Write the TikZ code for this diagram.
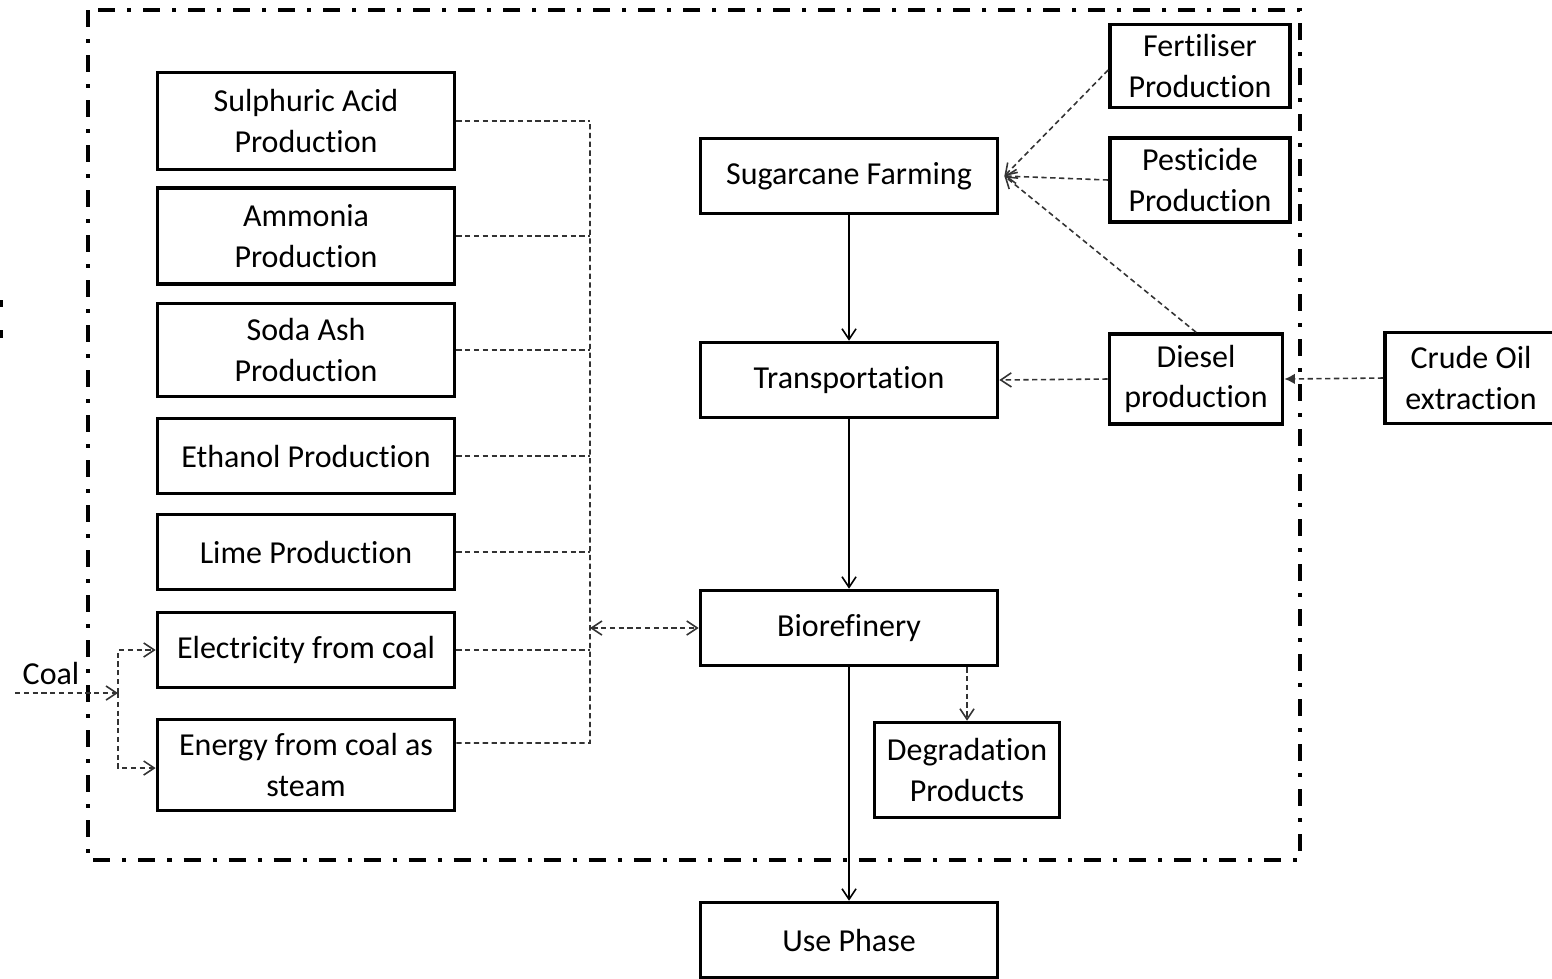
\documentclass[tikz,border=0pt]{standalone}
\usepackage{fontspec}
\setmainfont{Carlito}[Ligatures=CommonOff]
\usetikzlibrary{arrows.meta}

\begin{document}
\begin{tikzpicture}[x=0.01cm, y=-0.01cm,
  box/.style={draw, line width=1pt, minimum width=2.97cm, minimum height=0.75cm, align=center, inner sep=2pt,
    font=\fontsize{9.1}{11.6}\selectfont},
  lab/.style={font=\fontsize{9.1}{11.6}\selectfont},
  feed/.style={draw=black!80, line width=0.45pt, dash pattern=on 1.5pt off 1pt},
  tip/.style={-{Straight Barb[length=3pt,width=4pt]}},
  flow/.style={line width=0.45pt, -{Straight Barb[length=3pt,width=4pt]}},
  frame/.style={line width=1.1pt, dash pattern=on 0.17cm off 0.12cm on 0.04cm off 0.12cm}
]
\useasboundingbox (0,0) rectangle (1552,978);

% system boundary
\draw[frame] (88,10) rectangle (1300,860);
\fill (0,300) rectangle (3,307);
\fill (0,330) rectangle (3,338);

% inputs on the left
\foreach \n/\y/\h/\t in {sulph/121/0.97cm/{Sulphuric Acid\\Production},
    ammon/236/0.96cm/{Ammonia\\Production},
    soda/350/0.93cm/{Soda Ash\\Production},
    ethan/456/0.75cm/{Ethanol Production},
    lime/552/0.75cm/{Lime Production},
    elec/650/0.75cm/{Electricity from coal},
    energy/765/0.91cm/{Energy from coal as\\steam}} {
  \node[box, minimum height=\h] (\n) at (306,\y) {\t};
}

% main chain
\node[box] (sugar) at (849,176) {Sugarcane Farming};
\node[box] (trans) at (849,380) {Transportation};
\node[box] (bio) at (849,628) {Biorefinery};
\node[box] (use) at (849,940) {Use Phase};
\node[box, minimum width=1.85cm, minimum height=0.95cm] (degr) at (967,770) {Degradation\\Products};

% upstream on the right
\node[box, minimum width=1.8cm, minimum height=0.83cm] (fert) at (1200,66) {Fertiliser\\Production};
\node[box, minimum width=1.8cm, minimum height=0.84cm] (pest) at (1200,180) {Pesticide\\Production};
\node[box, minimum width=1.73cm, minimum height=0.9cm] (diesel) at (1196,379) {Diesel\\production};
\node[box, minimum width=1.72cm, minimum height=0.91cm] (crude) at (1471,378) {Crude Oil\\extraction};

% coal
\node[lab] (coal) at (51,673) {Coal};
\coordinate (coalin) at (15,693);
\coordinate (split) at (118,693);

% collector line
\coordinate (bus) at (590,628);
\coordinate (busend) at (590,743);

\foreach \n in {sulph,ammon,soda,ethan,lime,elec} {
  \draw[feed] (\n.east) -- (\n.east -| bus);
}
\draw[feed] ([yshift=0.22cm]energy.east) -- (busend) -- (sulph.east -| bus);
\draw[feed, {Straight Barb[length=3pt,width=4pt]}-{Straight Barb[length=3pt,width=4pt]}] (bus) -- (bio.west);

\draw[feed, tip] (coalin) -- (split);
\draw[feed, tip] (split) |- (elec.west);
\draw[feed, tip] (split) |- ([yshift=-0.03cm]energy.west);

\draw[flow] (sugar) -- (trans);
\draw[flow] (trans) -- (bio);
\draw[flow] (bio) -- (use);
\draw[feed, tip] (bio.south -| degr) -- (degr.north);

\draw[feed, tip] ([yshift=-0.04cm]fert.west) -- ([xshift=0.05cm]sugar.east);
\draw[feed, tip] (pest.west) -- ([xshift=0.05cm]sugar.east);
\draw[feed, tip] (diesel.north) -- ([xshift=0.05cm]sugar.east);
\draw[feed, tip] (diesel.west) -- (trans.east);
\draw[feed, -{Latex[length=3pt,width=3pt]}] (crude.west) -- (diesel.east);
\end{tikzpicture}
\end{document}
